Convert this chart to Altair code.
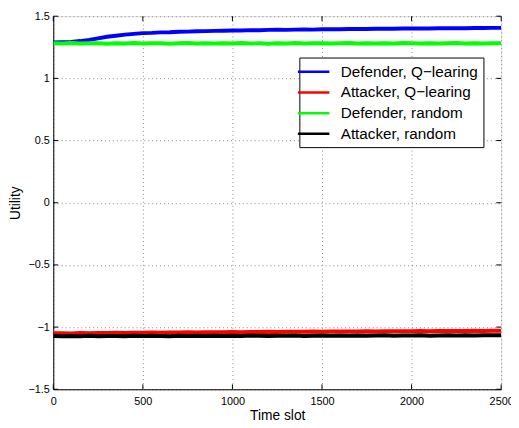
import altair as alt
import pandas as pd

slots = list(range(0, 2501, 50))

defender_q = [1.288, 1.290, 1.293, 1.300, 1.310, 1.322, 1.335, 1.343, 1.352, 1.358,
              1.364, 1.366, 1.370, 1.371, 1.375, 1.376, 1.379, 1.380, 1.382, 1.383,
              1.385, 1.385, 1.388, 1.387, 1.390, 1.391, 1.390, 1.392, 1.393, 1.392,
              1.395, 1.396, 1.395, 1.397, 1.398, 1.397, 1.399, 1.400, 1.399, 1.401,
              1.401, 1.402, 1.401, 1.403, 1.403, 1.404, 1.403, 1.405, 1.405, 1.406,
              1.406]
attacker_q = [-1.050, -1.049, -1.051, -1.048, -1.049, -1.047, -1.048, -1.046, -1.047, -1.045,
              -1.046, -1.044, -1.045, -1.043, -1.044, -1.042, -1.043, -1.041, -1.042, -1.041,
              -1.040, -1.041, -1.039, -1.040, -1.038, -1.039, -1.038, -1.037, -1.038, -1.036,
              -1.037, -1.036, -1.035, -1.036, -1.035, -1.034, -1.035, -1.034, -1.033, -1.034,
              -1.033, -1.032, -1.033, -1.032, -1.031, -1.032, -1.031, -1.030, -1.031, -1.030,
              -1.030]
defender_r = [1.283, 1.281, 1.284, 1.280, 1.283, 1.282, 1.279, 1.283, 1.281, 1.284,
              1.280, 1.282, 1.283, 1.279, 1.282, 1.284, 1.280, 1.282, 1.281, 1.283,
              1.280, 1.284, 1.281, 1.282, 1.279, 1.283, 1.281, 1.284, 1.280, 1.282,
              1.283, 1.280, 1.282, 1.284, 1.281, 1.282, 1.280, 1.283, 1.281, 1.284,
              1.282, 1.280, 1.283, 1.281, 1.282, 1.284, 1.280, 1.283, 1.281, 1.282,
              1.283]
attacker_r = [-1.072, -1.074, -1.071, -1.073, -1.070, -1.074, -1.072, -1.071, -1.073, -1.070,
              -1.072, -1.069, -1.071, -1.073, -1.070, -1.072, -1.069, -1.071, -1.070, -1.072,
              -1.069, -1.071, -1.068, -1.070, -1.072, -1.069, -1.070, -1.068, -1.071, -1.069,
              -1.067, -1.070, -1.068, -1.069, -1.067, -1.070, -1.068, -1.066, -1.069, -1.067,
              -1.068, -1.066, -1.069, -1.067, -1.065, -1.068, -1.066, -1.067, -1.065, -1.066,
              -1.066]

series_names = ["Defender, Q\u2212learing", "Attacker, Q\u2212learing",
                "Defender, random", "Attacker, random"]
series_colors = ["#0000ff", "#ff0000", "#00ff00", "#000000"]
series_values = [defender_q, attacker_q, defender_r, attacker_r]

x_ticks = [0, 500, 1000, 1500, 2000, 2500]
y_ticks = [-1.5, -1.0, -0.5, 0.0, 0.5, 1.0, 1.5]

rows = []
for name, vals in zip(series_names, series_values):
    for s, v in zip(slots, vals):
        rows.append({"slot": s, "utility": v, "series": name})
df = pd.DataFrame(rows)

W, H = 455, 379
FONT = "Liberation Sans"

xscale = alt.Scale(domain=[0, 2500], nice=False, zero=False)
yscale = alt.Scale(domain=[-1.5, 1.5], nice=False, zero=False)

lines = alt.Chart(df).mark_line(strokeWidth=4, clip=True).encode(
    x=alt.X("slot:Q", scale=xscale,
            axis=alt.Axis(title="Time slot", values=x_ticks, format="d",
                          grid=True, gridDash=[1, 3], gridColor="#888888",
                          tickSize=0, labelPadding=6, labelFontSize=11,
                          labelFont=FONT, labelColor="black",
                          titleFont=FONT, titleFontSize=14, titleFontWeight="normal",
                          titleColor="black", titlePadding=3,
                          domainColor="black", labelFlush=False)),
    y=alt.Y("utility:Q", scale=yscale,
            axis=alt.Axis(title="Utility", values=y_ticks, format=".1~f",
                          grid=True, gridDash=[1, 3], gridColor="#888888",
                          tickSize=0, labelPadding=4, labelFontSize=11,
                          labelFont=FONT, labelColor="black",
                          titleFont=FONT, titleFontSize=14, titleFontWeight="normal",
                          titleColor="black", titlePadding=6,
                          domainColor="black", labelFlush=False)),
    color=alt.Color("series:N",
                    scale=alt.Scale(domain=series_names, range=series_colors),
                    sort=series_names,
                    legend=alt.Legend(title=None, orient="none", legendX=250, legendY=42,
                                      symbolType="M-2,0H2", symbolSize=256,
                                      symbolStrokeWidth=2.5, labelFont=FONT,
                                      labelFontSize=15.5, labelColor="black",
                                      strokeColor="black", fillColor="white",
                                      padding=5, rowPadding=3, labelOffset=18,
                                      labelLimit=300)),
)

xt = pd.DataFrame({"t": x_ticks})
yt = pd.DataFrame({"t": y_ticks})

xtick_bottom = alt.Chart(xt).mark_rule(color="black", strokeWidth=1).encode(
    x=alt.X("t:Q", scale=xscale), y=alt.value(H), y2=alt.value(H - 5))
xtick_top = alt.Chart(xt).mark_rule(color="black", strokeWidth=1).encode(
    x=alt.X("t:Q", scale=xscale), y=alt.value(0), y2=alt.value(5))
ytick_left = alt.Chart(yt).mark_rule(color="black", strokeWidth=1).encode(
    y=alt.Y("t:Q", scale=yscale), x=alt.value(0), x2=alt.value(5))
ytick_right = alt.Chart(yt).mark_rule(color="black", strokeWidth=1).encode(
    y=alt.Y("t:Q", scale=yscale), x=alt.value(W), x2=alt.value(W - 5))

chart = alt.layer(lines, xtick_bottom, xtick_top, ytick_left, ytick_right).properties(
    width=W, height=H,
    autosize=alt.AutoSizeParams(type="none"),
    padding={"left": 46, "top": 5, "right": 10, "bottom": 36},
).configure_view(stroke="black", strokeWidth=1).configure(background="white")

chart.save("out.html", embed_options={"renderer": "svg", "actions": False})
